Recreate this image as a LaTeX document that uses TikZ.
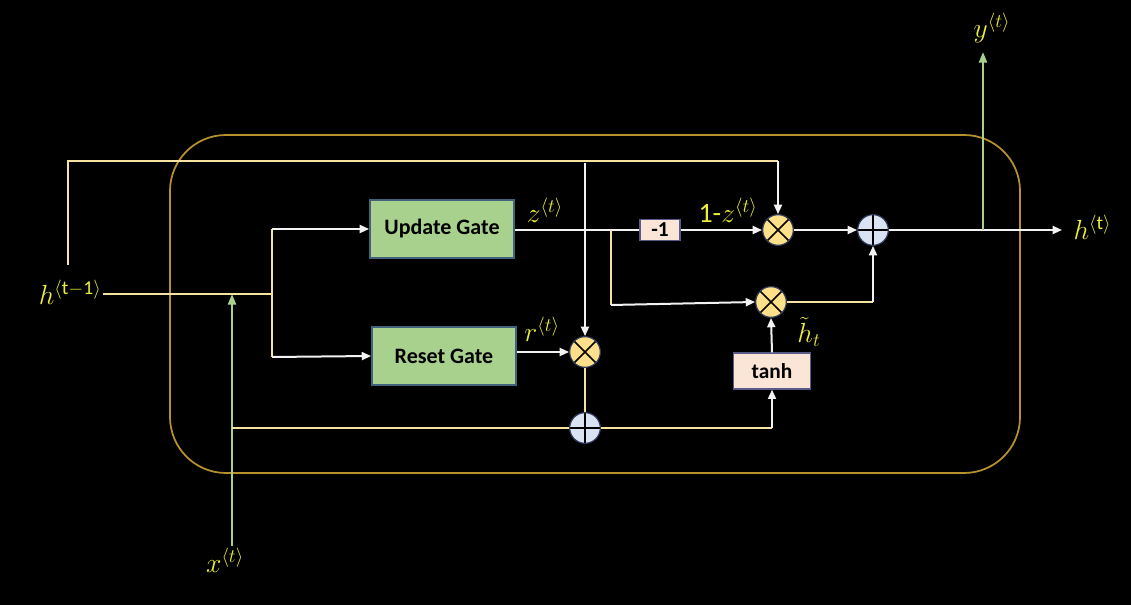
\documentclass[tikz,border=0pt]{standalone}
\usepackage{fontspec}
\setmainfont{Carlito}
\usetikzlibrary{arrows.meta,positioning,calc}
\definecolor{bgdark} {HTML}{000000}
\definecolor{wire}   {HTML}{F7E3A1}
\definecolor{wirew}  {HTML}{F2F2F2}
\definecolor{xgreen} {HTML}{A9D18E}
\definecolor{frame}  {HTML}{B8912F}
\definecolor{lbl}    {HTML}{EDED3A}
\definecolor{gatebg} {HTML}{A9D18E}
\definecolor{gateln} {HTML}{41617C}
\definecolor{opbg}   {HTML}{FBE5D6}
\definecolor{opln}   {HTML}{5A5A8A}
\definecolor{mulbg}  {HTML}{FFE08A}
\definecolor{addbg}  {HTML}{DAE3F3}
\definecolor{ringln} {HTML}{2F3B59}
\tikzset{
  gatebox/.style={
    rectangle, draw=gateln, line width=1.4pt, fill=gatebg,
    text=black, font=\fontsize{16.5}{18}\selectfont\bfseries,
    minimum width=108pt, minimum height=43pt
  },
  opbox/.style={
    rectangle, draw=opln, line width=1pt, fill=opbg,
    text=black, font=\fontsize{16}{18}\selectfont\bfseries, inner sep=2pt
  },
  mulnode/.style={
    circle, draw=ringln, line width=0.9pt, fill=mulbg,
    minimum size=23pt, inner sep=0pt,
    path picture={
      \draw[black, line width=1.2pt]
        ($(path picture bounding box.center)+(-8pt,8pt)$) -- ($(path picture bounding box.center)+(8pt,-8pt)$)
        ($(path picture bounding box.center)+(-8pt,-8pt)$) -- ($(path picture bounding box.center)+(8pt,8pt)$);
    }
  },
  addnode/.style={
    circle, draw=ringln, line width=0.9pt, fill=addbg,
    minimum size=23pt, inner sep=0pt,
    path picture={
      \draw[black, line width=1.2pt]
        (path picture bounding box.north) -- (path picture bounding box.south)
        (path picture bounding box.west) -- (path picture bounding box.east);
    }
  },
  yline/.style={draw=wire, line width=2.2pt},
  wline/.style={draw=wirew, line width=1.5pt},
  warrow/.style={wline, -{Triangle[length=7pt, width=6pt]}},
  garrow/.style={draw=xgreen, line width=1.7pt, -{Triangle[length=8pt, width=6pt]}},
  mathlbl/.style={text=lbl, font=\fontsize{21}{23}\selectfont, inner sep=1pt}
}

\begin{document}
\begin{tikzpicture}[x=0.75pt, y=-0.75pt]
  \useasboundingbox[fill=bgdark] (0,0) rectangle (1131,605);

  % cell frame
  \draw[frame, line width=1.3pt, rounded corners=42pt] (170,135) rectangle (1020,473);

  % boxes and operators
  \node[gatebox] (ug) at (442,229) {Update Gate};
  \node[gatebox] (rg) at (444,356) {Reset Gate};
  \node[opbox, minimum width=30pt, minimum height=16pt] (neg) at (660,230) {-1};
  \node[opbox, minimum width=58pt, minimum height=27pt] (tanh) at (772,371) {tanh};
  \node[mulnode] (mz) at (778,230) {};
  \node[mulnode] (mh) at (771,302) {};
  \node[mulnode] (mr) at (585,352) {};
  \node[addnode] (ad) at (873,230) {};
  \node[addnode] (ax) at (585,428) {};

  % labels
  \node[mathlbl, anchor=east] (hprev) at (103,292) {$h^{\langle \mathrm{t-1}\rangle}$};
  \node[mathlbl] (xt) at (225,560) {$x^{\langle t\rangle}$};
  \node[mathlbl] (yt) at (992,28) {$y^{\langle t\rangle}$};
  \node[mathlbl, anchor=west] (ht) at (1072,227) {$h^{\langle \mathrm{t}\rangle}$};
  \node[mathlbl] (zl) at (545,210) {$z^{\langle t\rangle}$};
  \node[mathlbl] (rl) at (542,329) {$r^{\langle t\rangle}$};
  \node[mathlbl] (oml) at (728,210) {1-$z^{\langle t\rangle}$};
  \node[mathlbl, inner sep=0pt] (htl) at (809,332) {$\tilde{h}_t$};

  % junction points
  \coordinate (sp) at (272,294);
  \coordinate (su) at (272,229);
  \coordinate (sr) at (272,357);
  \coordinate (tl) at (68,265);
  \coordinate (tr) at (778,161);
  \coordinate (tt) at (585,163);
  \coordinate (xj) at (232,428);
  \coordinate (xh) at (232,294);
  \coordinate (tj) at (772,428);
  \coordinate (zb) at (611,230);
  \coordinate (zc) at (611,305);
  \coordinate (hj) at (873,302);
  \coordinate (yj) at (983,230);
  \coordinate (yo) at (983,52);
  \coordinate (ho) at (1062,230);

  % previous state in
  \draw[yline] (hprev.east |- sp) -- (sp);
  \draw[yline] (su) -- (sr);
  \draw[warrow] (su) -- (ug.west);
  \draw[warrow] (sr) -- (rg.west);
  \draw[yline] (tl) |- (tr);
  \draw[warrow] (tr) -- (mz.north);
  \draw[warrow] (tt) -- (mr.north);

  % input
  \draw[garrow] (xt.north -| xh) -- (xh);
  \draw[yline] (xj) -- (ax.west);
  \draw[yline] (ax.east) -- (tj);
  \draw[warrow] (tj) -- (tanh.south);
  \draw[yline] (ax.north) -- (mr.south);
  \draw[warrow] (rg.east |- mr) -- (mr.west);

  % update path
  \draw[wline] (ug.east |- neg) -- (neg.west);
  \draw[warrow] (neg.east) -- (mz.west);
  \draw[yline] (zb) -- (zc);
  \draw[warrow] (zc) -- (mh.west);
  \draw[warrow] (tanh.north) -- (mh.south);
  \draw[yline] (mh.east) -- (hj);
  \draw[warrow] (hj) -- (ad.south);
  \draw[warrow] (mz.east) -- (ad.west);

  % outputs
  \draw[warrow] (ad.east) -- (ho);
  \draw[garrow] (yj) -- (yo);
\end{tikzpicture}
\end{document}
